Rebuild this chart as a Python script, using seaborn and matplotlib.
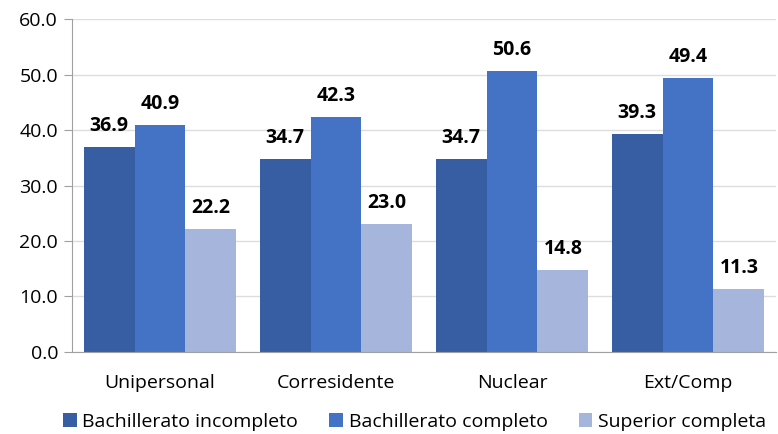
import matplotlib
matplotlib.use("Agg")
import matplotlib.pyplot as plt
import seaborn as sns
import pandas as pd
import numpy as np

categories = ["Unipersonal", "Corresidente", "Nuclear", "Ext/Comp"]
series_names = ["Bachillerato incompleto", "Bachillerato completo", "Superior completa"]
bach_incompleto = [36.9, 34.7, 34.7, 39.3]
bach_completo = [40.9, 42.3, 50.6, 49.4]
superior = [22.2, 23.0, 14.8, 11.3]
colors = ["#375EA3", "#4472C4", "#A6B5DB"]

rows = []
for name, vals in zip(series_names, [bach_incompleto, bach_completo, superior]):
    for c, v in zip(categories, vals):
        rows.append({"cat": c, "serie": name, "val": v})
df = pd.DataFrame(rows)

sns.set_style("white")
plt.rcParams["font.family"] = ["Open Sans", "DejaVu Sans"]
plt.rcParams["text.color"] = "black"
plt.rcParams["xtick.color"] = "black"
plt.rcParams["ytick.color"] = "black"
FS = 14

fig = plt.figure(figsize=(7.78, 4.34), dpi=100)
ax = fig.add_axes([0.0925, 0.189, 0.905, 0.767])
sns.barplot(data=df, x="cat", y="val", hue="serie", palette=colors,
            width=0.867, saturation=1, ax=ax, legend=True, linewidth=0)

ax.set_ylim(0, 60)
ax.set_xlim(-0.5, 3.5)
ax.set_yticks(np.arange(0, 61, 10))
ax.set_yticklabels([f"{v:.1f}" for v in np.arange(0, 61, 10)], fontsize=FS)
ax.set_xticks(range(4))
ax.set_xticklabels(categories, fontsize=FS)
ax.tick_params(axis="x", length=0, pad=16, labelcolor="black")
ax.set_xticks([-0.5, 0.5, 1.5, 2.5, 3.5], minor=True)
ax.tick_params(axis="x", which="minor", length=6, color="#A0A0A0", direction="out")
ax.tick_params(axis="y", length=6, color="#A0A0A0", direction="out", left=True, pad=4,
               labelcolor="black")
ax.yaxis.grid(True, color="#DDDDDD", linewidth=1)
ax.set_axisbelow(True)
ax.set_xlabel("")
ax.set_ylabel("")
for s in ["top", "right"]:
    ax.spines[s].set_visible(False)
for s in ["left", "bottom"]:
    ax.spines[s].set_color("#A0A0A0")

for cont in ax.containers:
    ax.bar_label(cont, fmt="%.1f", fontsize=FS, fontweight="bold", padding=8, color="black")

h, l = ax.get_legend_handles_labels()
ax.get_legend().remove()
fig.legend(h, l, loc="center", bbox_to_anchor=(0.533, 0.028), ncol=3,
           frameon=False, fontsize=FS, handlelength=0.7, handleheight=0.7,
           handletextpad=0.3, columnspacing=1.6, borderpad=0, labelcolor="black")

fig.savefig("out.png", dpi=100)
